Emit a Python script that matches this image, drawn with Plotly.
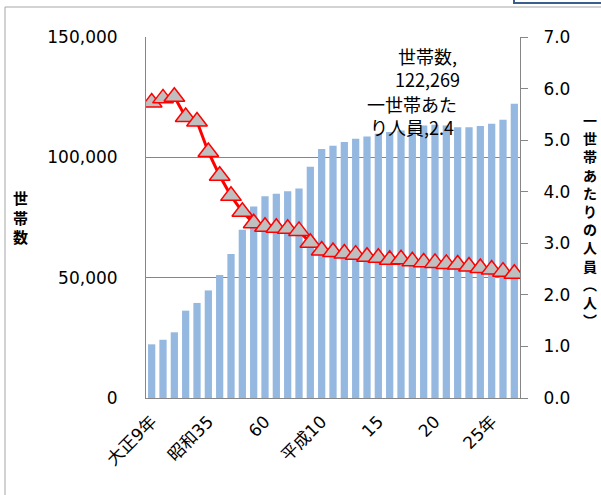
import plotly.graph_objects as go

# ---- data ----
categories = ["大正9年", "昭和10", "昭和15", "昭和25", "昭和30", "昭和35", "昭和40", "昭和45",
              "昭和50", "昭和55", "昭和60", "平成2", "平成7", "平成8", "平成9", "平成10",
              "平成11", "平成12", "平成13", "平成14", "平成15", "平成16", "平成17", "平成18",
              "平成19", "平成20", "平成21", "平成22", "平成23", "平成24", "平成25", "平成26", "平成27"]
households = [22300, 24200, 27300, 36300, 39500, 44700, 51100, 59800, 69900, 79600,
              83800, 84900, 85900, 87100, 96100, 103500, 104800, 106400, 107700, 108700,
              109800, 110500, 111200, 112300, 113200, 113500, 113200, 112500, 112500, 113000,
              114000, 115600, 122269]
persons = [5.73, 5.81, 5.84, 5.45, 5.36, 4.77, 4.31, 3.92, 3.61, 3.39,
           3.32, 3.30, 3.28, 3.24, 3.01, 2.86, 2.83, 2.80, 2.78, 2.74,
           2.72, 2.68, 2.69, 2.65, 2.63, 2.62, 2.60, 2.59, 2.55, 2.52,
           2.49, 2.45, 2.41]
tick_idx = [0, 5, 10, 15, 20, 25, 30]
tick_labels = ["大正9年", "昭和35", "60", "平成10", "15", "20", "25年"]
y1_ticks = [0, 50000, 100000, 150000]
y2_ticks = [0, 1, 2, 3, 4, 5, 6, 7]
left_title = "世帯数"
right_title = ["一", "世", "帯", "あ", "た", "り", "の", "人", "員", "︵", "人", "︶"]

# ---- layout geometry ----
W, H = 601, 495
ML, MR, MT, MB = 146, 81, 37, 97
PW, PH = W - ML - MR, H - MT - MB

def px(x):
    return (x - ML) / PW

def py(y):
    return (H - MB - y) / PH

LATIN = "DejaVu Sans, Noto Sans CJK JP, sans-serif"
CJK = "Noto Sans CJK JP, sans-serif"
GRAY = "#868686"

fig = go.Figure()
fig.add_trace(go.Bar(x=categories, y=households, marker=dict(color="#95B8E0", line=dict(width=0)),
                     name="世帯数", yaxis="y"))
fig.add_trace(go.Scatter(x=categories, y=persons, yaxis="y2", mode="lines+markers",
                         name="一世帯あたり人員",
                         line=dict(color="#FF0000", width=3),
                         marker=dict(symbol="triangle-up", size=18, color="#BFBFBF",
                                     line=dict(color="#FF0000", width=1.5))))

fig.update_layout(
    width=W, height=H,
    margin=dict(l=ML, r=MR, t=MT, b=MB),
    paper_bgcolor="white", plot_bgcolor="white",
    showlegend=False, bargap=0.36,
    font=dict(family=LATIN, size=17, color="black"),
    xaxis=dict(type="category", range=[-0.5, len(categories) - 0.5],
               tickvals=[categories[i] for i in tick_idx], ticktext=tick_labels,
               tickangle=-45, showline=True, linecolor=GRAY, linewidth=1,
               ticks="", showgrid=False, ticklabelstandoff=6,
               tickfont=dict(family=LATIN, size=17)),
    yaxis=dict(range=[0, 150000], tickvals=y1_ticks, tickformat=",",
               showline=True, linecolor=GRAY, linewidth=1,
               showgrid=True, gridcolor=GRAY, gridwidth=1, zeroline=False,
               ticks="", ticklabelstandoff=24,
               tickfont=dict(family=LATIN, size=17)),
    yaxis2=dict(range=[0, 7], tickvals=y2_ticks, tickformat=".1f", overlaying="y",
                side="right", showline=True, linecolor=GRAY, linewidth=1,
                showgrid=False, zeroline=False, ticks="outside", ticklen=7,
                tickcolor=GRAY, ticklabelstandoff=12,
                tickfont=dict(family=LATIN, size=17)),
)

annotations = [
    dict(x=categories[-1], y=households[-1], xref="x", yref="y",
         text="世帯数,<br>122,269", showarrow=False, xshift=-87, yshift=36,
         font=dict(family=CJK, size=18, color="black"), align="center"),
    dict(x=categories[-1], y=persons[-1], xref="x", yref="y2",
         text="一世帯あた<br>り人員,2.4", showarrow=False, xshift=-102, yshift=158,
         font=dict(family=CJK, size=18, color="black"), align="center"),
    dict(x=px(20), y=py(217), xref="paper", yref="paper", xanchor="center", yanchor="middle",
         text="<b>" + "<br>".join(left_title) + "</b>", showarrow=False,
         font=dict(family=CJK, size=15, color="black"), align="center"),
    dict(x=px(590), y=py(220), xref="paper", yref="paper", xanchor="center", yanchor="middle",
         text="<b>" + "<br>".join(right_title) + "</b>", showarrow=False,
         font=dict(family=CJK, size=14, color="black"), align="center"),
]
fig.update_layout(annotations=annotations)

fig.update_layout(shapes=[
    dict(type="rect", xref="paper", yref="paper",
         x0=px(5), x1=px(W + 20), y0=py(H + 20), y1=py(7),
         line=dict(color="#A6A6A6", width=1), fillcolor="rgba(0,0,0,0)", layer="below"),
    dict(type="rect", xref="paper", yref="paper",
         x0=px(514), x1=px(W + 20), y0=py(3), y1=py(-20),
         line=dict(color="#3B5E8F", width=2), fillcolor="white", layer="above"),
])

fig.write_html("out.html", config={"displayModeBar": False},
               post_script="document.body.style.margin='0px';document.body.style.padding='0px';")
